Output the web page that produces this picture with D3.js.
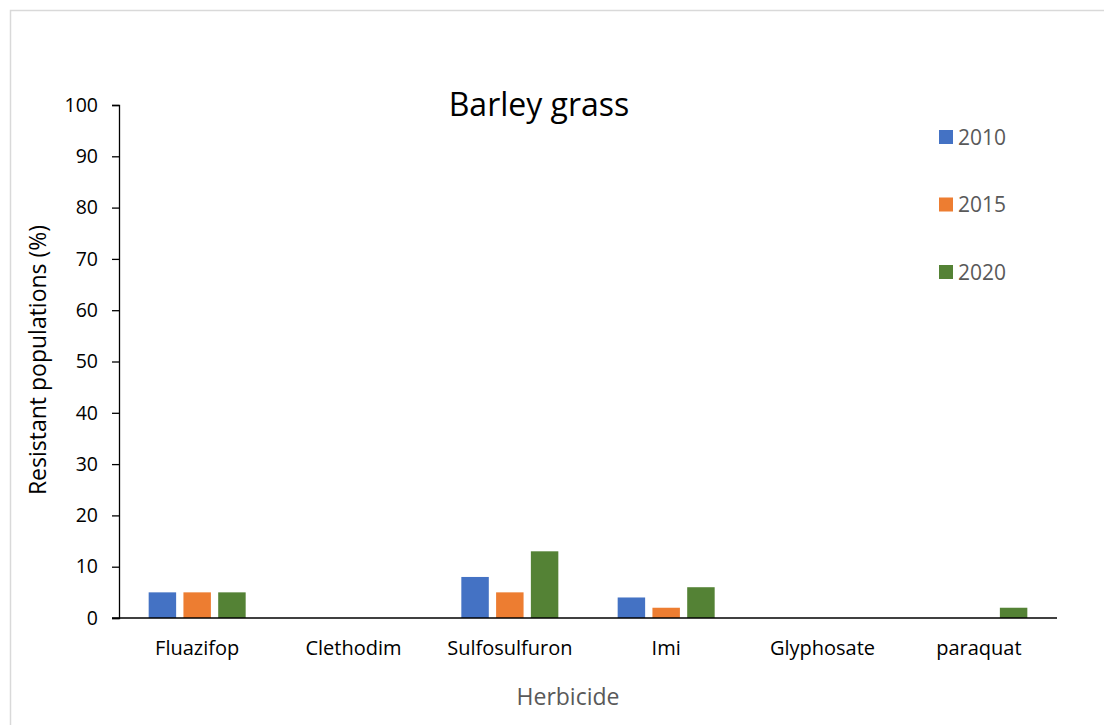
<!DOCTYPE html>
<html>
<head>
<meta charset="utf-8">
<script src="https://cdn.jsdelivr.net/npm/d3@7"></script>
<style>
  html, body { margin: 0; padding: 0; background: #fff; }
  svg { display: block; font-family: "Open Sans", "Noto Sans", sans-serif; }
</style>
</head>
<body>
<svg id="chart" width="1104" height="725"></svg>
<script>
// Herbicide resistance survey results for barley grass
const categories = ["Fluazifop", "Clethodim", "Sulfosulfuron", "Imi", "Glyphosate", "paraquat"];
const years = ["2010", "2015", "2020"];
const values2010 = [5, 0, 8, 4, 0, 0];
const values2015 = [5, 0, 5, 2, 0, 0];
const values2020 = [5, 0, 13, 6, 0, 2];
const yTicks = [0, 10, 20, 30, 40, 50, 60, 70, 80, 90, 100];
const colors = ["#4472C4", "#ED7D31", "#548235"];

const series = [values2010, values2015, values2020];

const svg = d3.select("#chart");

// outer chart frame
svg.append("rect")
  .attr("x", 10.5).attr("y", 10.5)
  .attr("width", 1110).attr("height", 730)
  .attr("fill", "#fff").attr("stroke", "#d9d9d9").attr("stroke-width", 1.5);

const plot = { left: 119, right: 1057, top: 105, bottom: 618 };

const x = d3.scaleBand()
  .domain(categories)
  .range([plot.left, plot.right]);

const groupWidth = 97;
const xInner = d3.scaleBand()
  .domain(years)
  .range([0, groupWidth])
  .paddingInner(0.21)
  .paddingOuter(0);

const y = d3.scaleLinear()
  .domain([0, 100])
  .range([plot.bottom, plot.top]);

// bars
const groupOffset = (x.bandwidth() - groupWidth) / 2;
years.forEach((yr, si) => {
  svg.append("g")
    .selectAll("rect")
    .data(categories.map((c, i) => ({ c, v: series[si][i] })).filter(d => d.v > 0))
    .join("rect")
    .attr("x", d => x(d.c) + groupOffset + xInner(yr))
    .attr("width", xInner.bandwidth())
    .attr("y", d => y(d.v))
    .attr("height", d => y(0) - y(d.v))
    .attr("fill", colors[si]);
});

// y axis
const yAxis = svg.append("g")
  .attr("transform", `translate(${plot.left},0)`)
  .call(d3.axisLeft(y).tickValues(yTicks).tickSize(7).tickPadding(14));
yAxis.select(".domain").attr("stroke", "#000").attr("stroke-width", 1.3);
yAxis.selectAll(".tick line").attr("stroke", "#000").attr("stroke-width", 1.3);
yAxis.selectAll("text")
  .attr("font-size", 19.5).attr("fill", "#000")
  .attr("font-family", "'Open Sans', 'Noto Sans', sans-serif");

// x axis
const xAxis = svg.append("g")
  .attr("transform", `translate(0,${plot.bottom})`)
  .call(d3.axisBottom(x).tickSize(0).tickPadding(23));
xAxis.select(".domain")
  .attr("d", `M${plot.left - 7},0H${plot.right}`)
  .attr("stroke", "#000").attr("stroke-width", 1.5);
xAxis.selectAll("text")
  .attr("font-size", 20).attr("fill", "#000")
  .attr("font-family", "'Open Sans', 'Noto Sans', sans-serif");

// title
svg.append("text")
  .attr("x", 539).attr("y", 116)
  .attr("text-anchor", "middle")
  .attr("font-size", 32).attr("fill", "#000")
  .text("Barley grass");

// axis titles
svg.append("text")
  .attr("transform", "translate(46,360) rotate(-90)")
  .attr("text-anchor", "middle")
  .attr("font-size", 23).attr("fill", "#000")
  .text("Resistant populations (%)");

svg.append("text")
  .attr("x", 568).attr("y", 705)
  .attr("text-anchor", "middle")
  .attr("font-size", 23).attr("fill", "#595959")
  .text("Herbicide");

// legend
const legend = svg.append("g");
years.forEach((yr, i) => {
  const cy = 137 + i * 67.5;
  legend.append("rect")
    .attr("x", 939).attr("y", cy - 7)
    .attr("width", 14).attr("height", 14)
    .attr("fill", colors[i]);
  legend.append("text")
    .attr("x", 958).attr("y", cy + 7.5)
    .attr("font-size", 21).attr("fill", "#595959")
    .text(yr);
});
</script>
</body>
</html>
